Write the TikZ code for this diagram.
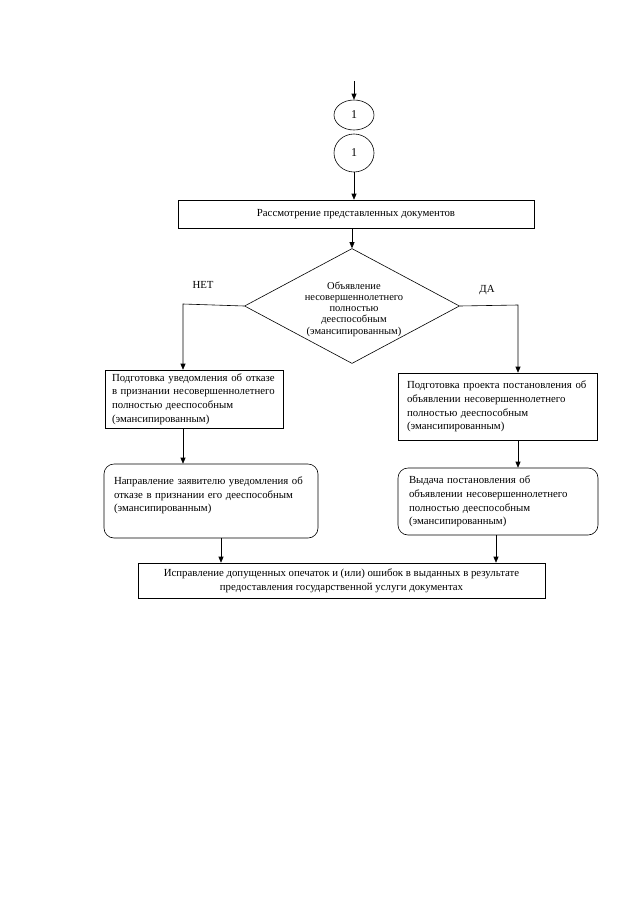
\documentclass[tikz,border=0pt]{standalone}
\usepackage{fontspec}
\setmainfont{Liberation Serif}
\usetikzlibrary{shapes.geometric,arrows.meta}
\begin{document}
\begin{tikzpicture}[x=1pt,y=-1pt,
  every node/.style={font=\fontsize{10.8}{13.7}\selectfont},
  arr/.style={-{Triangle[length=6pt,width=5pt]},line width=0.6pt},
  box/.style={draw,line width=0.6pt,inner sep=0pt},
  rbox/.style={box,rounded corners=10pt},
  oval/.style={draw,ellipse,line width=0.6pt,inner sep=0pt,font=\fontsize{12}{14}\selectfont},
  lbl/.style={inner sep=0pt}]
\useasboundingbox (0,0) rectangle (640,905);
\coordinate (start) at (354,81);
\node[oval,minimum width=40,minimum height=30] (e1) at (354,115) {1};
\node[oval,minimum width=40,minimum height=38] (e2) at (354,153) {1};
\node[box,minimum width=356,minimum height=28] (b1) at (356,214) {Рассмотрение представленных документов};
\node[draw,diamond,line width=0.6pt,minimum width=215,minimum height=115,inner sep=0pt] (dia) at (352,306) {};
\node[lbl,align=center,font=\fontsize{10.5}{11.3}\selectfont] (diat) at (354,309) {Объявление\\несовершеннолетнего\\полностью\\дееспособным\\(эмансипированным)};
\node[lbl] (net) at (203,285) {НЕТ};
\node[lbl] (da) at (487,290) {ДА};
\node[box,minimum width=178,minimum height=58,align=left,text width=164] (lb) at (194,399) {Подготовка уведомления об отказе\\в признании несовершеннолетнего\\полностью дееспособным\\(эмансипированным)};
\node[rbox,minimum width=214,minimum height=74,align=left,text width=194] (lr) at (211,501) {Направление заявителю уведомления об\\отказе в признании его дееспособным\\(эмансипированным)\\\mbox{}};
\node[box,minimum width=199,minimum height=67,align=left,text width=181] (rb) at (497.5,406.5) {Подготовка проекта постановления об\\объявлении несовершеннолетнего\\полностью дееспособным\\(эмансипированным)};
\node[rbox,minimum width=200,minimum height=67,align=left,text width=178] (rr) at (498,501.5) {Выдача постановления об\\объявлении несовершеннолетнего\\полностью дееспособным\\(эмансипированным)};
\node[box,minimum width=407,minimum height=35,align=center] (fin) at (341.5,580.5) {Исправление допущенных опечаток и (или) ошибок в выданных в результате\\предоставления государственной услуги документах};
\coordinate (nl) at (183,304);
\coordinate (nr) at (518,305);
\draw[arr] (start) -- (e1.north);
\draw[arr] (e2.south) -- (e2.south |- b1.north);
\draw[arr] (b1.south -| dia.north) -- (dia.north);
\draw[arr] (dia.west) -- (nl) -- (nl |- lb.north);
\draw[arr] (dia.east) -- (nr) -- (nr |- rb.north);
\draw[arr] (lb.south -| nl) -- (nl |- lr.north);
\draw[arr] (rb.south -| nr) -- (nr |- rr.north);
\coordinate (cl) at (221,0);
\coordinate (cr) at (496,0);
\draw[arr] (lr.south -| cl) -- (fin.north -| cl);
\draw[arr] (rr.south -| cr) -- (fin.north -| cr);
\end{tikzpicture}
\end{document}
